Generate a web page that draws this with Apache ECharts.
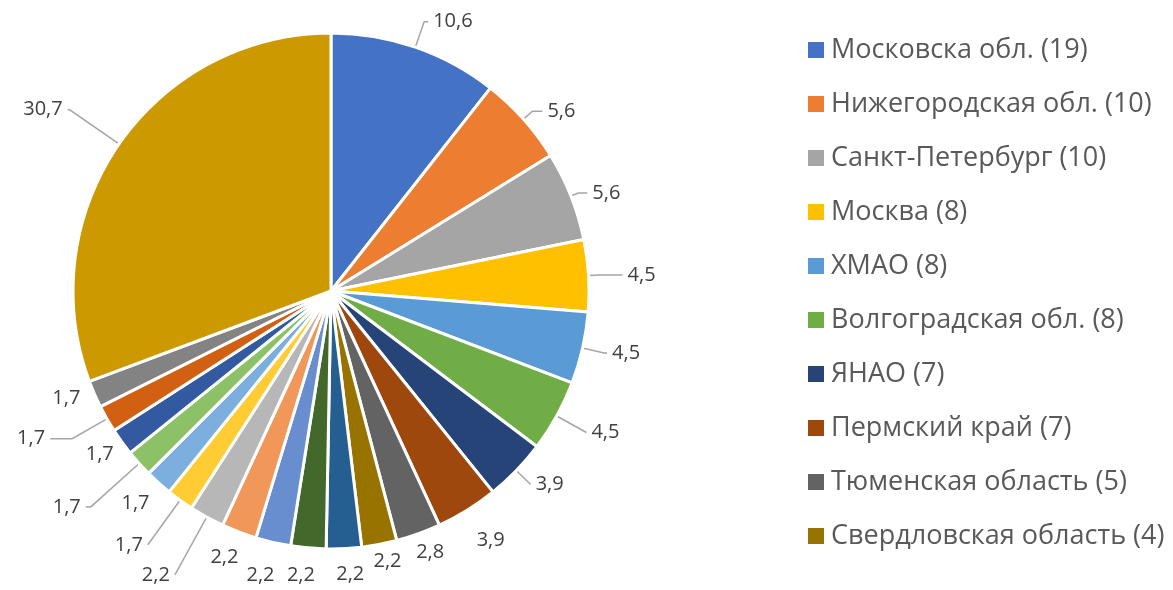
<!DOCTYPE html>
<html>
<head>
<meta charset="utf-8">
<script src="https://cdn.jsdelivr.net/npm/echarts@6/dist/echarts.min.js"></script>
<style>
  html, body { margin: 0; padding: 0; background: #fff; }
  #pie { width: 1173px; height: 590px; }
</style>
</head>
<body>
<div id="pie"></div>
<script>
// regions (legend shows only the first ten)
const regions = [
  'Московска обл. (19)', 'Нижегородская обл. (10)', 'Санкт-Петербург (10)', 'Москва (8)',
  'ХМАО (8)', 'Волгоградская обл. (8)', 'ЯНАО (7)', 'Пермский край (7)',
  'Тюменская область (5)', 'Свердловская область (4)',
  'Регион 11', 'Регион 12', 'Регион 13', 'Регион 14', 'Регион 15', 'Регион 16',
  'Регион 17', 'Регион 18', 'Регион 19', 'Регион 20', 'Регион 21', 'Прочие'
]
const shares = [10.6, 5.6, 5.6, 4.5, 4.5, 4.5, 3.9, 3.9, 2.8, 2.2, 2.2, 2.2, 2.2, 2.2, 2.2,
  1.7, 1.7, 1.7, 1.7, 1.7, 1.7, 30.7]
const colors = ['#4472C4', '#ED7D31', '#A5A5A5', '#FFC000', '#5B9BD5', '#70AD47',
  '#264478', '#9E480E', '#636363', '#997300', '#255E91', '#43682B',
  '#698ED0', '#F1975A', '#B7B7B7', '#FFCD33', '#7CAFDD', '#8CC168',
  '#335AA1', '#D26012', '#838383', '#CC9A00']

const font = "'Open Sans', 'Noto Sans', sans-serif"

// leader line per slice: [length, length2, line shown, centred text]
const leader = [
  [27, 4, 1, 0], [12, 10, 1, 0], [8, 9, 1, 0], [10, 24, 1, 0], [22, 3, 1, 0], [34, 0, 1, 0],
  [20, 0, 1, 0], [35, 0, 0, 1], [20, 0, 0, 1], [17, 0, 0, 1], [26, 0, 0, 1], [27, 0, 0, 1],
  [34, 0, 0, 1], [27, 0, 0, 1], [66, 0, 1, 0], [55, 0, 1, 0], [27, 0, 0, 1], [65, 5, 1, 0],
  [21, 0, 0, 1], [40, 22, 1, 0], [10, 0, 0, 0], [60, 2, 1, 0]
]

const option = {
  color: colors,
  animation: false,
  legend: {
    orient: 'vertical',
    left: 801,
    top: 30,
    data: regions.slice(0, 10),
    icon: 'rect',
    itemWidth: 18,
    itemHeight: 18,
    itemGap: 24,
    textStyle: { fontFamily: font, fontSize: 27, color: '#595959', lineHeight: 30, padding: [0, 0, 0, 1] }
  },
  series: [
    {
      type: 'pie',
      center: [331, 291],
      radius: [0, 258],
      startAngle: 90,
      clockwise: true,
      avoidLabelOverlap: false,
      itemStyle: { borderColor: '#fff', borderWidth: 3 },
      label: {
        show: true,
        formatter: p => String(p.value).replace('.', ','),
        fontFamily: font,
        fontSize: 20,
        color: '#404040'
      },
      labelLine: {
        show: true,
        lineStyle: { color: '#A6A6A6', width: 1.5 }
      },
      labelLayout: p => (leader[p.dataIndex][3] ? { align: 'center' } : {}),
      data: shares.map((v, i) => ({
        name: regions[i],
        value: v,
        labelLine: { length: leader[i][0], length2: leader[i][1], show: !!leader[i][2] }
      }))
    }
  ]
}

const chart = echarts.init(document.getElementById('pie'))
chart.setOption(option)
</script>
</body>
</html>
